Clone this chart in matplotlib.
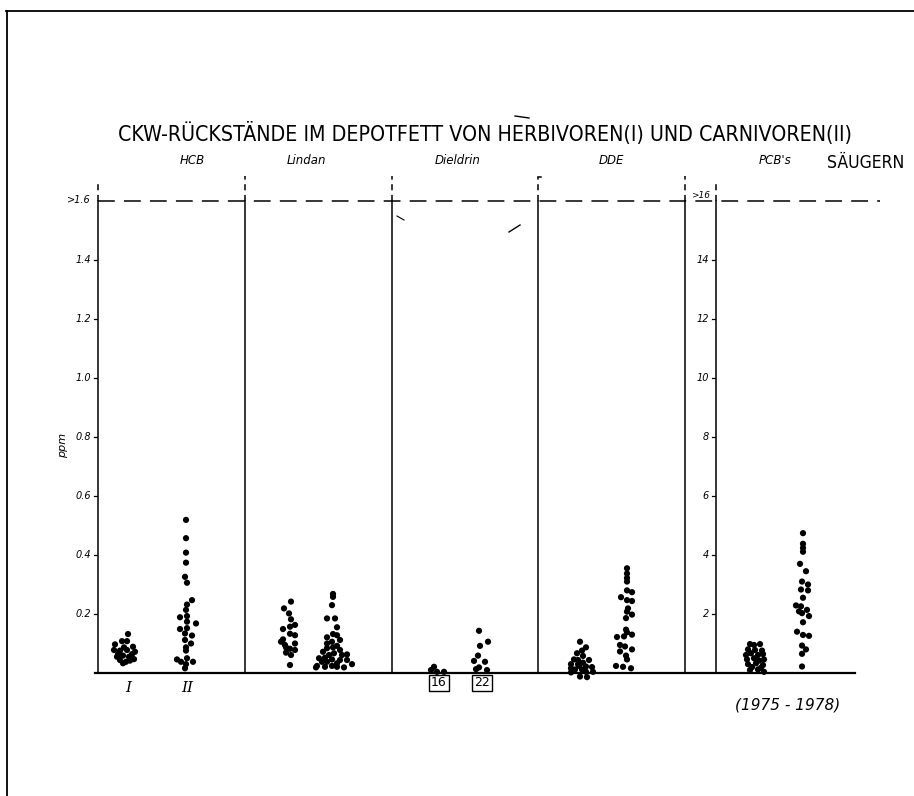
import matplotlib
matplotlib.use("Agg")
import matplotlib.pyplot as plt
from matplotlib import font_manager

# ---------------- data ----------------
panels = ["HCB", "Lindan", "Dieldrin", "DDE", "PCB's"]
group_labels = ["I", "II"]
ppm_ticks = [0.2, 0.4, 0.6, 0.8, 1.0, 1.2, 1.4]
ppm_tick_labels = ["0.2", "0.4", "0.6", "0.8", "1.0", "1.2", "1.4"]
pcb_ticks = [2, 4, 6, 8, 10, 12, 14]
pcb_tick_labels = ["2", "4", "6", "8", "10", "12", "14"]
top_label_ppm = ">1.6"
top_label_pcb = ">16"
dieldrin_counts = ["16", "22"]

# values in ppm, with the horizontal spread of each dot (sheet units)
hcb_I = [0.132, 0.108, 0.108, 0.097, 0.089, 0.087, 0.078, 0.076, 0.078, 0.072,
         0.064, 0.064, 0.055, 0.059, 0.055, 0.047, 0.044, 0.038, 0.033, 0.042]
hcb_I_spread = [3, -3, 2, -10, 8, -1, -11, -5, 2, 10, -7, 7, -8, -2, 4, 9, -5, 1, -2, 5]
hcb_II = [0.519, 0.457, 0.408, 0.374, 0.326, 0.306, 0.247, 0.232, 0.214, 0.189,
          0.193, 0.174, 0.168, 0.149, 0.152, 0.134, 0.127, 0.112, 0.100, 0.087,
          0.076, 0.046, 0.038, 0.050, 0.038, 0.030, 0.016]
hcb_II_spread = [0, 0, 0, 0, -1, 1, 6, 1, 0, -6, 1, 1, 10, -6, 1, -1, 6, -1, 5, 0,
                 0, -9, -5, 1, 7, 0, -1]
lindan_I = [0.242, 0.219, 0.202, 0.182, 0.163, 0.157, 0.149, 0.133, 0.128, 0.114,
            0.106, 0.100, 0.095, 0.087, 0.082, 0.078, 0.069, 0.061, 0.027]
lindan_I_spread = [2, -5, 0, 2, 6, 1, -6, 1, 6, -6, -8, 6, -4, -3, 1, 6, -3, 2, 1]
lindan_II = [0.268, 0.258, 0.230, 0.185, 0.185, 0.155, 0.132, 0.128, 0.121, 0.112,
             0.106, 0.100, 0.092, 0.087, 0.084, 0.078, 0.072, 0.067, 0.061, 0.061,
             0.063, 0.050, 0.052, 0.046, 0.044, 0.044, 0.038, 0.038, 0.033, 0.024,
             0.021, 0.024, 0.021, 0.019, 0.030, 0.019]
lindan_II_spread = [0, 0, -1, -6, 2, 4, 0, 4, -6, 7, -1, -6, 4, 0, -6, 7, -10, 1, -4, 9,
                    14, -14, -8, -1, 7, 14, -11, -6, 4, -16, -8, -1, 4, 11, 19, -17]
dieldrin_I = [0.021, 0.010, 0.004, 0.004]
dieldrin_I_spread = [-3, -6, 0, 7]
dieldrin_II = [0.143, 0.106, 0.092, 0.059, 0.041, 0.038, 0.019, 0.013, 0.010]
dieldrin_II_spread = [-2, 7, -1, -3, -7, 4, -2, -5, 6]
dde_I = [0.106, 0.087, 0.076, 0.067, 0.058, 0.046, 0.044, 0.044, 0.035, 0.030,
         0.030, 0.020, 0.022, 0.024, 0.016, 0.012, 0.012, 0.004, 0.004, 0.002,
         -0.012, -0.014]
dde_I_spread = [-1, 5, 1, -4, 2, -7, 8, -3, 2, -10, -3, 11, 5, -2, -10, -6, 1, 12, 5,
                -10, -1, 6]
dde_II = [0.355, 0.337, 0.322, 0.310, 0.280, 0.274, 0.257, 0.247, 0.244, 0.219,
          0.208, 0.198, 0.186, 0.147, 0.138, 0.122, 0.124, 0.130, 0.095, 0.090,
          0.080, 0.073, 0.059, 0.046, 0.024, 0.021, 0.016]
dde_II_spread = [1, 1, 1, 1, 1, 6, -5, 1, 6, 2, 1, 6, 0, 0, 1, -9, -2, 6, -6, -1,
                 6, -6, 0, 1, -10, -3, 5]
pcb_I = [0.98, 0.95, 0.98, 0.80, 0.78, 0.76, 0.61, 0.67, 0.61, 0.64, 0.46, 0.50,
         0.42, 0.46, 0.30, 0.33, 0.27, 0.10, 0.12, 0.04, 0.20, 0.18]
pcb_I_spread = [-5, -1, 5, -7, 0, 7, -9, -4, 3, 8, -8, -1, 4, 9, -7, 1, 8, -5, 3, 9, -3, 6]
pcb_II = [4.74, 4.38, 4.24, 4.11, 3.70, 3.45, 3.10, 3.00, 2.83, 2.80, 2.55, 2.29,
          2.26, 2.14, 2.09, 2.03, 1.93, 1.72, 1.40, 1.29, 1.26, 0.93, 0.80, 0.65, 0.22]
pcb_II_spread = [0, 0, 0, 0, -3, 3, -1, 5, -2, 5, 0, -7, -2, 4, -4, -1, 6, 0, -6, 0,
                 6, -1, 3, -1, -1]
pcb_scale = 0.1   # PCB panel is drawn at 1/10 of the ppm scale

# ---------------- layout (sheet units: 1 unit = 1 px horizontally) -------------
W, H = 914, 796
ORIGIN_X, ORIGIN_Y, PX_PER_PPM = 98, 673, 295.0
panel_edges = [0, 147, 294, 440, 587]
pcb_axis = 618
group_centres = [(27, 88), (191, 235), (339, 383), (483, 528), (657, 705)]


def X(px):
    return px - ORIGIN_X


def Y(py):
    return (ORIGIN_Y - py) / PX_PER_PPM


# pick a condensed / narrow face for the hand lettering if one is installed
title_fp = None
for f in font_manager.fontManager.ttflist:
    if ("Narrow" in f.name or f.stretch in ("condensed", "semi-condensed")) \
            and f.style == "normal" and f.weight in (400, "normal", "regular"):
        title_fp = font_manager.FontProperties(fname=f.fname)
        break
if title_fp is None:
    title_fp = font_manager.FontProperties(family="DejaVu Sans")

fig = plt.figure(figsize=(W / 100, H / 100), dpi=100)
ax = fig.add_axes([0, 0, 1, 1])
ax.set_xlim(X(0), X(W))
ax.set_ylim(Y(H), Y(0))
ax.axis("off")

lw = 1.1
# border of the sheet
ax.plot([X(6), X(914)], [Y(11), Y(11)], color="black", lw=1.3, clip_on=False)
ax.plot([X(7), X(7)], [Y(11), Y(796)], color="black", lw=1.3, clip_on=False)

# axis lines / separators
for xe, top in zip(panel_edges + [pcb_axis], [Y(180), Y(176), Y(176), Y(177), Y(176), Y(180)]):
    ax.plot([xe, xe], [0, 1.6], color="black", lw=lw)
    ax.plot([xe, xe], [1.6, top], color="black", lw=lw, dashes=(4, 3))
ax.plot([X(538), X(541)], [Y(177), Y(177)], color="black", lw=lw)
# baseline
ax.plot([-3, X(855)], [0, 0], color="black", lw=1.6)
# >1.6 dashed line
ax.plot([0, X(880)], [1.6, 1.6], color="black", lw=lw, dashes=(11, 6))

# ticks and labels (ppm axis)
tkw = dict(fontsize=7, style="italic", family="DejaVu Sans", ha="right", va="center")
for t, lab in zip(ppm_ticks, ppm_tick_labels):
    ax.plot([-4, -1], [t, t], color="black", lw=0.9)
    ax.text(X(91), t, lab, **tkw)
ax.text(X(91), Y(200), top_label_ppm, **tkw)
# ticks and labels (PCB axis)
for t, lab in zip(pcb_ticks, pcb_tick_labels):
    y = t * pcb_scale
    ax.plot([pcb_axis - 4, pcb_axis - 1], [y, y], color="black", lw=0.9)
    ax.text(X(709), y, lab, **tkw)
ax.text(X(710), Y(196), top_label_pcb, fontsize=6.5, style="italic",
        family="DejaVu Sans", ha="right", va="center")

ax.text(X(63), Y(445), "ppm", rotation=90, fontsize=8, style="italic",
        family="DejaVu Sans", ha="center", va="center")

# dots
series = [
    (hcb_I, hcb_I_spread, hcb_II, hcb_II_spread, 1.0),
    (lindan_I, lindan_I_spread, lindan_II, lindan_II_spread, 1.0),
    (dieldrin_I, dieldrin_I_spread, dieldrin_II, dieldrin_II_spread, 1.0),
    (dde_I, dde_I_spread, dde_II, dde_II_spread, 1.0),
    (pcb_I, pcb_I_spread, pcb_II, pcb_II_spread, pcb_scale),
]
for (v1, s1, v2, s2, k), (c1, c2) in zip(series, group_centres):
    ax.scatter([c1 + s for s in s1], [v * k for v in v1], s=20, color="black",
               edgecolors="none", zorder=3)
    ax.scatter([c2 + s for s in s2], [v * k for v in v2], s=20, color="black",
               edgecolors="none", zorder=3)

# panel titles
for name, px in zip(panels, [192, 306, 458, 611, 775]):
    ax.text(X(px), Y(160), name, fontsize=8.5, style="italic", family="DejaVu Sans",
            ha="center", va="center")

# group labels under HCB
ax.text(X(128), Y(688), group_labels[0], fontsize=11, family="DejaVu Serif",
        style="italic", ha="center", va="center")
ax.text(X(187), Y(688), group_labels[1], fontsize=11, family="DejaVu Serif",
        style="italic", ha="center", va="center")

# boxed counts under Dieldrin
for lab, px in zip(dieldrin_counts, [439, 482]):
    ax.text(X(px), Y(683), lab, fontsize=9, family="DejaVu Sans", ha="center",
            va="center",
            bbox=dict(boxstyle="square,pad=0.15", fc="white", ec="black", lw=1.0))

ax.text(X(788), Y(705), "(1975 - 1978)", fontsize=11, style="italic",
        family="DejaVu Sans", ha="center", va="center")

# title
title = ax.text(X(485), Y(133),
                "CKW-RÜCKSTÄNDE IM DEPOTFETT VON HERBIVOREN(I) UND CARNIVOREN(II)",
                fontsize=15, fontproperties=title_fp, ha="center", va="center",
                color="black")
sub = ax.text(X(866), Y(163), "SÄUGERN", fontsize=15, fontproperties=title_fp,
              ha="center", va="center", color="black")
for t in (title, sub):
    t.set_fontsize(15)
fig.canvas.draw()
r = fig.canvas.get_renderer()
for t, target in [(title, 740), (sub, 78)]:
    w = t.get_window_extent(r).width
    t.set_fontsize(t.get_fontsize() * target / w)

# stray pen marks
ax.plot([X(397), X(404)], [Y(216), Y(220)], color="black", lw=0.8)
ax.plot([X(509), X(520)], [Y(232), Y(225)], color="black", lw=1.0)
ax.plot([X(515), X(529)], [Y(116), Y(118)], color="black", lw=1.0)

fig.savefig("out.png", dpi=100)
